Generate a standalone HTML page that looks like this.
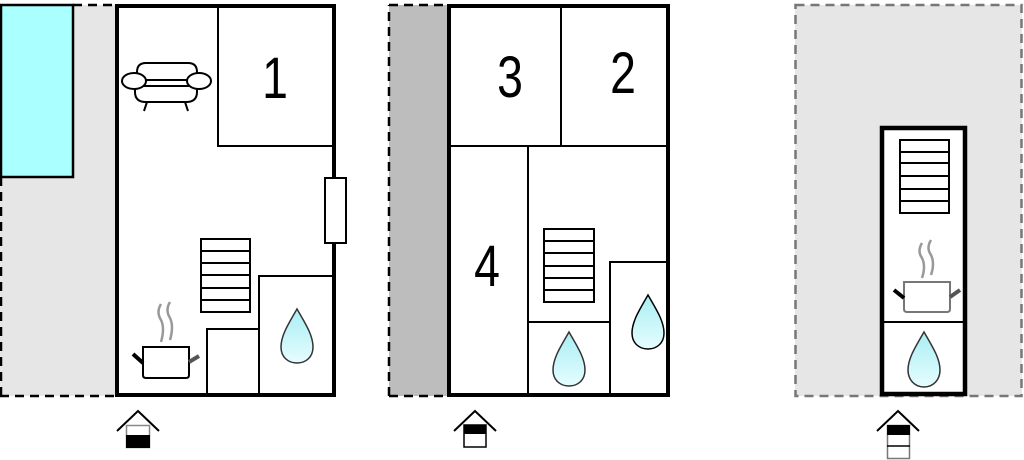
<!DOCTYPE html>
<html><head><meta charset="utf-8"><style>html,body{margin:0;padding:0;background:#fff}svg{display:block}</style></head><body>
<svg width="1024" height="460" viewBox="0 0 1024 460" xmlns="http://www.w3.org/2000/svg" font-family="Liberation Sans, sans-serif">
<defs>
<linearGradient id="dg" x1="0" y1="0" x2="0" y2="1"><stop offset="0" stop-color="#a8eef3"/><stop offset="1" stop-color="#e6fdff"/></linearGradient>
</defs>
<!-- Panel 1 -->
<rect x="0" y="5" width="116" height="391" fill="#e6e6e6"/>
<path d="M1,396 V5 M0,396 H116 M73,5 H116" stroke="#000" stroke-width="2.5" stroke-dasharray="9,6" fill="none"/>
<rect x="1" y="5" width="72" height="172" fill="#aaffff" stroke="#000" stroke-width="2.5"/>
<rect x="117" y="6" width="217" height="389" fill="#fff" stroke="#000" stroke-width="4"/>
<path d="M218,6 V146 H334 M259,395 V276 H334 M207,395 V329 H259" stroke="#000" stroke-width="2" fill="none"/>
<rect x="325" y="178" width="21" height="65" fill="#fff" stroke="#000" stroke-width="2"/>
<text transform="translate(275,98) scale(0.8,1)" font-size="58" text-anchor="middle">1</text>
<!-- sofa -->
<g stroke="#000" stroke-width="2" fill="#fff">
<path d="M137,80 V72 Q137,63 146,63 H188 Q197,63 197,72 V80 H137 Z"/>
<path d="M135,87 V92 Q135,102 146,102 H186 Q197,102 197,92 V87"/>
<path d="M135,86 H197"/>
<path d="M147,102 L144,111 M185,102 L188,111"/>
<ellipse cx="134" cy="81" rx="12" ry="8"/>
<ellipse cx="199" cy="81" rx="12" ry="8"/>
</g>
<!-- stairs 1 -->
<g stroke="#000" stroke-width="2" fill="none"><rect x="201" y="239" width="49" height="73"/><path d="M201,251 H250 M201,263 H250 M201,275 H250 M201,288 H250 M201,300 H250"/></g>
<!-- pot 1 -->
<g fill="none"><path d="M161,304 q-5,8 0,16 q4,8 0,22 M170,302 q-5,8 0,16 q4,8 0,22" stroke="#999" stroke-width="2.5"/>
<path d="M143,347 H189 V375 q0,3 -3,3 H146 q-3,0 -3,-3 Z" fill="#fff" stroke="#000" stroke-width="2"/>
<path d="M133,354 L143,363" stroke="#000" stroke-width="4"/><path d="M189,362 L199,356" stroke="#555" stroke-width="4"/></g>
<path d="M297,309 C289,323 281,335 281,347 C281,357 288,363 297,363 C306,363 313,357 313,347 C313,335 305,323 297,309 Z" fill="url(#dg)" stroke="#333" stroke-width="1.5"/>
<!-- entry 1 -->
<g><path d="M117,431 L138,411 L159,431" stroke="#000" stroke-width="2" fill="none"/>
<rect x="126.5" y="425.5" width="23" height="22" fill="#fff" stroke="#888" stroke-width="1.5"/><rect x="126" y="435" width="24" height="13" fill="#000"/></g>

<!-- Panel 2 -->
<rect x="389" y="5" width="59" height="391" fill="#bdbdbd"/>
<path d="M389,396 V5 M389,396 H448 M389,5 H448" stroke="#000" stroke-width="2.5" stroke-dasharray="9,6" fill="none"/>
<rect x="449" y="6" width="219" height="389" fill="#fff" stroke="#000" stroke-width="4"/>
<path d="M561,6 V146 M449,146 H668 M528,146 V395 M528,322 H610 M610,395 V262 H668" stroke="#000" stroke-width="2" fill="none"/>
<text transform="translate(510,97) scale(0.8,1)" font-size="58" text-anchor="middle">3</text>
<text transform="translate(623,93) scale(0.8,1)" font-size="58" text-anchor="middle">2</text>
<text transform="translate(487,286) scale(0.8,1)" font-size="58" text-anchor="middle">4</text>
<g stroke="#000" stroke-width="2" fill="none"><rect x="544" y="229" width="50" height="73"/><path d="M544,241 H594 M544,253 H594 M544,266 H594 M544,278 H594 M544,290 H594"/></g>
<path d="M569,332 C561,346 553,358 553,370 C553,380 560,386 569,386 C578,386 585,380 585,370 C585,358 577,346 569,332 Z" fill="url(#dg)" stroke="#333" stroke-width="1.5"/>
<path d="M648,295 C640,309 632,321 632,333 C632,343 639,349 648,349 C657,349 664,343 664,333 C664,321 656,309 648,295 Z" fill="url(#dg)" stroke="#000" stroke-width="1.5"/>
<g><path d="M454,431 L475,411 L496,431" stroke="#000" stroke-width="2" fill="none"/>
<rect x="464" y="425" width="22" height="22" fill="#fff" stroke="#000" stroke-width="1.5"/><rect x="464" y="425" width="22" height="9" fill="#000"/></g>

<!-- Panel 3 -->
<rect x="795" y="5" width="227" height="391" fill="#e6e6e6"/>
<rect x="795.5" y="5" width="226" height="391" fill="none" stroke="#777" stroke-width="2.5" stroke-dasharray="9,6"/>
<rect x="882" y="128" width="83" height="266" fill="#fff" stroke="#000" stroke-width="4.5"/>
<path d="M882,322 H965" stroke="#000" stroke-width="2"/>
<g stroke="#000" stroke-width="2" fill="none"><rect x="900" y="140" width="49" height="73"/><path d="M900,152 H949 M900,163 H949 M900,176 H949 M900,189 H949 M900,201 H949"/></g>
<g fill="none"><path d="M922,243 q-5,8 0,15 q4,8 0,20 M931,240 q-5,8 0,15 q4,8 0,20" stroke="#999" stroke-width="2.5"/>
<path d="M904,282 H950 V309 q0,3 -3,3 H907 q-3,0 -3,-3 Z" fill="#fff" stroke="#777" stroke-width="2"/>
<path d="M894,290 L904,298" stroke="#000" stroke-width="4"/><path d="M950,297 L960,290" stroke="#555" stroke-width="4"/></g>
<path d="M924,332 C916,346 908,358 908,370 C908,380 915,387 924,387 C933,387 940,380 940,370 C940,358 932,346 924,332 Z" fill="url(#dg)" stroke="#333" stroke-width="1.5"/>
<g><path d="M877,431 L898,411 L919,431" stroke="#000" stroke-width="2" fill="none"/>
<rect x="887.5" y="425.5" width="22" height="33" fill="#fff" stroke="#777" stroke-width="1.5"/>
<rect x="887" y="425" width="23" height="10" fill="#000"/><path d="M887,446 H910" stroke="#000" stroke-width="1.5"/></g>
</svg>
</body></html>
